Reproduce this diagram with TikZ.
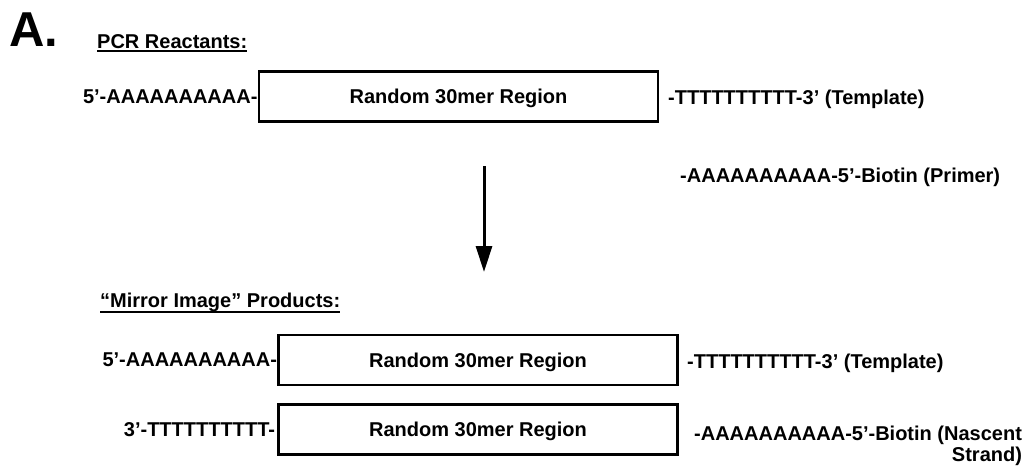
\documentclass[tikz,border=0pt]{standalone}
\usepackage{fontspec}
\setmainfont{Liberation Sans}
\usepackage{tikz}
\usetikzlibrary{arrows.meta}

\begin{document}
\begin{tikzpicture}[x=1pt, y=-1pt, >={Triangle[length=26pt,width=16pt]},
    font=\bfseries\fontsize{20}{21}\selectfont,
    region/.style={draw, line width=2.6pt, minimum width=399pt, minimum height=50pt, inner sep=0pt, text depth=0pt},
    seq/.style={inner sep=0pt, text depth=0pt},
    heading/.style={inner sep=0pt, anchor=base west}]
    \useasboundingbox (0,0) rectangle (1030,467);

    \node[seq, anchor=west, font=\bfseries\fontsize{49}{50}\selectfont] (panel) at (9,30) {A.};

    % reactants
    \node[heading] (reactants) at (97,48) {PCR Reactants:};
    \draw[line width=1.6pt] ([yshift=-3pt]reactants.base west) -- ([yshift=-3pt]reactants.base east);

    \node[region] (tmpl) at (458.5,96.5) {Random 30mer Region};
    \node[seq, anchor=east] (tmplL) at (tmpl.west) {5’-AAAAAAAAAA-};
    \node[seq, anchor=west] (tmplR) at (668,97) {-TTTTTTTTTT-3’ (Template)};
    \node[seq, anchor=west] (primer) at (680,175) {-AAAAAAAAAA-5’-Biotin (Primer)};

    \coordinate (arrtop) at (484,166);
    \coordinate (arrtip) at (484,272);
    \draw[->, line width=3pt] (arrtop) -- (arrtip);

    % products
    \node[heading] (products) at (100,307) {“Mirror Image” Products:};
    \draw[line width=1.6pt] ([yshift=-5pt]products.base west) -- ([yshift=-5pt]products.base east);

    \node[region] (prodA) at (478,360) {Random 30mer Region};
    \node[seq, anchor=east] (prodAL) at (prodA.west) {5’-AAAAAAAAAA-};
    \node[seq, anchor=west] (prodAR) at (687,361) {-TTTTTTTTTT-3’ (Template)};

    \node[region] (prodB) at (478,429.5) {Random 30mer Region};
    \node[seq, anchor=east] (prodBL) at ([xshift=-2pt]prodB.west) {3’-TTTTTTTTTT-};
    \node[seq, anchor=north west, align=right] (prodBR) at (694,426) {-AAAAAAAAAA-5’-Biotin (Nascent\\Strand)};
\end{tikzpicture}
\end{document}
